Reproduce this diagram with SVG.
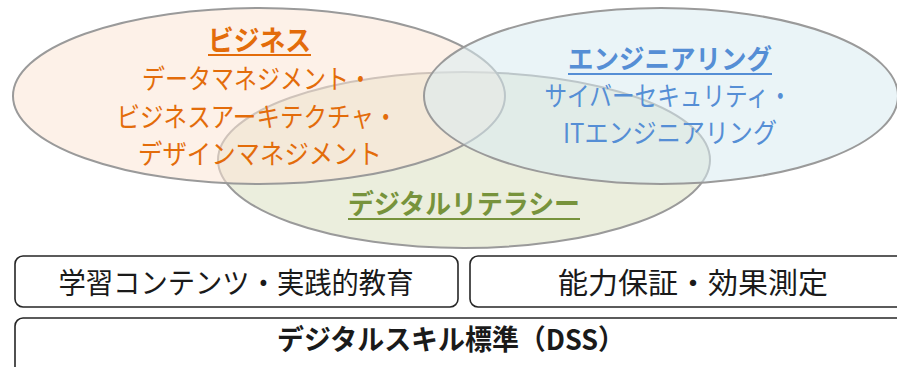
<svg xmlns="http://www.w3.org/2000/svg" width="897" height="367" viewBox="0 0 897 367">
<style>
.ell{stroke:#9A9A9A;stroke-width:2}
.t{font-family:"Meiryo UI","Noto Sans CJK JP","Noto Sans",sans-serif;text-anchor:middle}
.b{font-weight:bold}
.or{fill:#E36C0A}
.bl{fill:#558ED5}
.gr{fill:#77933C}
.box{fill:#FFFFFF;stroke:#262626;stroke-width:1.6}
.dk{fill:#1A1A1A}
</style>
<rect width="897" height="367" fill="#FFFFFF"/>
<g id="ellipses">
<ellipse id="literacy-shape" class="ell" cx="464" cy="160" rx="246" ry="88" fill="#EBEEDD"/>
<ellipse id="business-shape" class="ell" cx="259" cy="96" rx="246" ry="88" fill="#FBE6D5" fill-opacity="0.55"/>
<ellipse id="engineering-shape" class="ell" cx="661" cy="96" rx="237" ry="88" fill="#D9EBF0" fill-opacity="0.55"/>
</g>
<g id="business">
<text class="t b or" x="259.5" y="51" font-size="28" textLength="103" lengthAdjust="spacingAndGlyphs">ビジネス</text>
<rect x="208" y="54" width="103" height="2" fill="#E36C0A"/>
<text class="t or" x="257" y="89" font-size="27" textLength="230" lengthAdjust="spacingAndGlyphs">データマネジメント・</text>
<text class="t or" x="257" y="127" font-size="27" textLength="281" lengthAdjust="spacingAndGlyphs">ビジネスアーキテクチャ・</text>
<text class="t or" x="260" y="164" font-size="27" textLength="244" lengthAdjust="spacingAndGlyphs">デザインマネジメント</text>
</g>
<g id="engineering">
<text class="t b bl" x="670" y="69" font-size="27" textLength="204" lengthAdjust="spacingAndGlyphs">エンジニアリング</text>
<rect x="568" y="73" width="204" height="2" fill="#558ED5"/>
<text class="t bl" x="668" y="106" font-size="27" textLength="247" lengthAdjust="spacingAndGlyphs">サイバーセキュリティ・</text>
<text class="t bl" x="670" y="143" font-size="27" textLength="214" lengthAdjust="spacingAndGlyphs">ITエンジニアリング</text>
</g>
<g id="literacy">
<text class="t b gr" x="464" y="214" font-size="27" textLength="232" lengthAdjust="spacingAndGlyphs">デジタルリテラシー</text>
<rect x="348" y="218" width="232" height="2" fill="#77933C"/>
</g>
<g id="learning">
<rect class="box" x="15" y="256" width="443" height="51" rx="8"/>
<text class="t dk" x="236" y="294" font-size="29" textLength="355" lengthAdjust="spacingAndGlyphs">学習コンテンツ・実践的教育</text>
</g>
<g id="assurance">
<rect class="box" x="470" y="256" width="445" height="51" rx="8"/>
<text class="t dk" x="693" y="294" font-size="29" textLength="270" lengthAdjust="spacingAndGlyphs">能力保証・効果測定</text>
</g>
<g id="dss">
<rect class="box" x="15" y="318" width="900" height="70" rx="8"/>
<text class="t b dk" x="451" y="350" font-size="28" textLength="348" lengthAdjust="spacingAndGlyphs">デジタルスキル標準（DSS）</text>
</g>
<g id="connectors"/>
</svg>
